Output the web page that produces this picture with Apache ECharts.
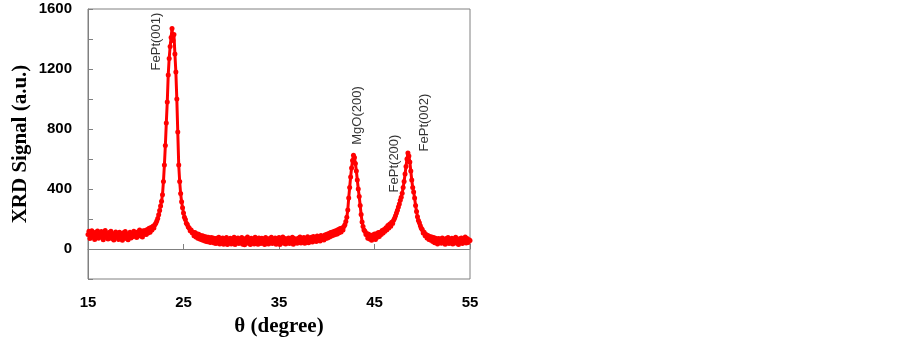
<!DOCTYPE html>
<html>
<head>
<meta charset="utf-8">
<script src="https://cdn.jsdelivr.net/npm/echarts@6/dist/echarts.min.js"></script>
<style>
html, body { margin: 0; padding: 0; background: #fff; }
#chart { width: 903px; height: 344px; }
</style>
</head>
<body>
<div id="chart"></div>
<script>
// scan start / step in degrees
var thetaStart = 15;
var thetaStep = 0.1;

// XRD signal (a.u.), one row per degree (x.0 .. x.9)
var signal = [
    96, 118, 70, 104, 122, 78, 100, 64, 112, 86,        // 15
    120, 72, 98, 80, 116, 90, 62, 106, 124, 76,         // 16
    94, 66, 110, 84, 118, 70, 102, 60, 92, 114,         // 17
    78, 104, 64, 112, 84, 98, 58, 108, 76, 116,         // 18
    70, 100, 62, 90, 112, 74, 104, 82, 118, 88,         // 19
    108, 76, 114, 92, 126, 86, 118, 80, 122, 98,        // 20
    124, 96, 130, 106, 138, 112, 144, 126, 152, 140,    // 21
    162, 172, 186, 204, 228, 256, 286, 318, 362, 450,   // 22
    560, 690, 840, 980, 1160, 1270, 1350, 1410, 1470, 1390, // 23
    1430, 1300, 1180, 1000, 780, 560, 450, 370, 315, 275,   // 24
    240, 212, 196, 172, 164, 146, 140, 122, 126, 108,   // 25
    112, 88, 110, 80, 102, 72, 98, 66, 90, 62,          // 26
    88, 56, 84, 52, 80, 48, 78, 58, 44, 76,             // 27
    46, 74, 40, 70, 36, 72, 44, 78, 34, 66,             // 28
    42, 74, 32, 68, 40, 76, 30, 64, 46, 72,             // 29
    34, 66, 42, 78, 30, 70, 48, 74, 36, 62,             // 30
    44, 76, 32, 58, 28, 70, 40, 80, 38, 64,             // 31
    30, 72, 46, 60, 34, 78, 42, 68, 32, 74,             // 32
    48, 36, 72, 40, 66, 30, 76, 44, 62, 34,             // 33
    70, 42, 78, 36, 64, 46, 74, 32, 68, 40,             // 34
    76, 30, 62, 44, 80, 38, 70, 34, 66, 48,             // 35
    74, 36, 64, 42, 78, 32, 70, 46, 60, 38,             // 36
    72, 44, 80, 40, 66, 50, 76, 38, 70, 46,             // 37
    82, 42, 68, 52, 78, 46, 84, 56, 72, 50,             // 38
    86, 58, 80, 54, 90, 64, 84, 60, 94, 70,             // 39
    98, 74, 104, 80, 110, 86, 114, 92, 118, 96,         // 40
    124, 100, 130, 108, 136, 114, 140, 126, 150, 162,   // 41
    184, 212, 260, 340, 410, 480, 540, 590, 625, 610,   // 42
    570, 520, 460, 400, 350, 290, 230, 180, 150, 126,   // 43
    118, 96, 104, 72, 98, 66, 90, 58, 94, 70,           // 44
    100, 64, 102, 78, 110, 84, 112, 96, 124, 106,       // 45
    130, 118, 142, 128, 156, 140, 166, 152, 178, 170,   // 46
    192, 205, 222, 240, 258, 280, 300, 325, 345, 372,   // 47
    410, 450, 500, 550, 600, 640, 620, 580, 520, 460,   // 48
    410, 380, 340, 290, 250, 215, 190, 175, 155, 138,   // 49
    130, 106, 112, 88, 96, 74, 90, 64, 84, 58,          // 50
    80, 50, 76, 42, 72, 56, 34, 70, 46, 66,             // 51
    38, 74, 44, 62, 32, 70, 48, 76, 36, 64,             // 52
    42, 72, 34, 66, 50, 78, 38, 60, 30, 68,             // 53
    46, 74, 36, 64, 52, 80, 40, 70, 44, 62,             // 54
    56                                                  // 55
];

// peak labels: [theta, signal, text]
var peakLabels = [
    [22.2, 1383, 'FePt(001)'],
    [43.2, 890, 'MgO(200)'],
    [47.1, 570, 'FePt(200)'],
    [50.2, 843, 'FePt(002)']
];

var xTicks = { min: 15, max: 55, interval: 10 };
var yTicks = { min: -200, max: 1600, interval: 200, labelEvery: 400 };

var points = [];
for (var i = 0; i < signal.length; i++) {
    points.push([+(thetaStart + i * thetaStep).toFixed(1), signal[i]]);
}

var axisGray = '#808080';
var myChart = echarts.init(document.getElementById('chart'));
var option = {
    animation: false,
    grid: {
        left: 88,
        right: 433,
        top: 9,
        bottom: 65,
        show: true,
        borderColor: axisGray,
        borderWidth: 1
    },
    xAxis: {
        type: 'value',
        min: xTicks.min,
        max: xTicks.max,
        interval: xTicks.interval,
        name: 'θ (degree)',
        nameLocation: 'middle',
        nameGap: 37,
        nameTextStyle: {
            fontFamily: 'Liberation Serif',
            fontWeight: 'bold',
            fontSize: 21,
            color: '#000'
        },
        axisLine: { lineStyle: { color: axisGray } },
        axisTick: { inside: true, length: 5, lineStyle: { color: axisGray } },
        axisLabel: {
            margin: 16,
            fontFamily: 'Liberation Sans',
            fontWeight: 'bold',
            fontSize: 15,
            color: '#000'
        },
        splitLine: { show: false }
    },
    yAxis: {
        type: 'value',
        min: yTicks.min,
        max: yTicks.max,
        interval: yTicks.interval,
        name: 'XRD Signal (a.u.)',
        nameLocation: 'middle',
        nameGap: 57,
        nameTextStyle: {
            fontFamily: 'Liberation Serif',
            fontWeight: 'bold',
            fontSize: 21,
            color: '#000'
        },
        axisLine: { show: true, lineStyle: { color: axisGray } },
        axisTick: { inside: true, length: 5, lineStyle: { color: axisGray } },
        axisLabel: {
            margin: 16,
            fontFamily: 'Liberation Sans',
            fontWeight: 'bold',
            fontSize: 15,
            color: '#000',
            showMinLabel: true,
            showMaxLabel: true,
            formatter: function (v) {
                if (v < 0 || v % yTicks.labelEvery !== 0) return '';
                return v;
            }
        },
        splitLine: { show: false }
    },
    series: [
        {
            type: 'line',
            data: points,
            showSymbol: true,
            showAllSymbol: true,
            symbol: 'circle',
            symbolSize: 5,
            itemStyle: { color: '#ff0000' },
            lineStyle: { color: '#ff0000', width: 3 },
            z: 2
        },
        {
            type: 'scatter',
            data: peakLabels,
            symbolSize: 1,
            itemStyle: { color: 'rgba(0,0,0,0)' },
            label: {
                show: true,
                position: 'inside',
                rotate: 90,
                fontFamily: 'Liberation Sans',
                fontSize: 13,
                color: '#000',
                formatter: function (p) { return p.data[2]; }
            },
            z: 3
        }
    ]
};
myChart.setOption(option);
</script>
</body>
</html>
